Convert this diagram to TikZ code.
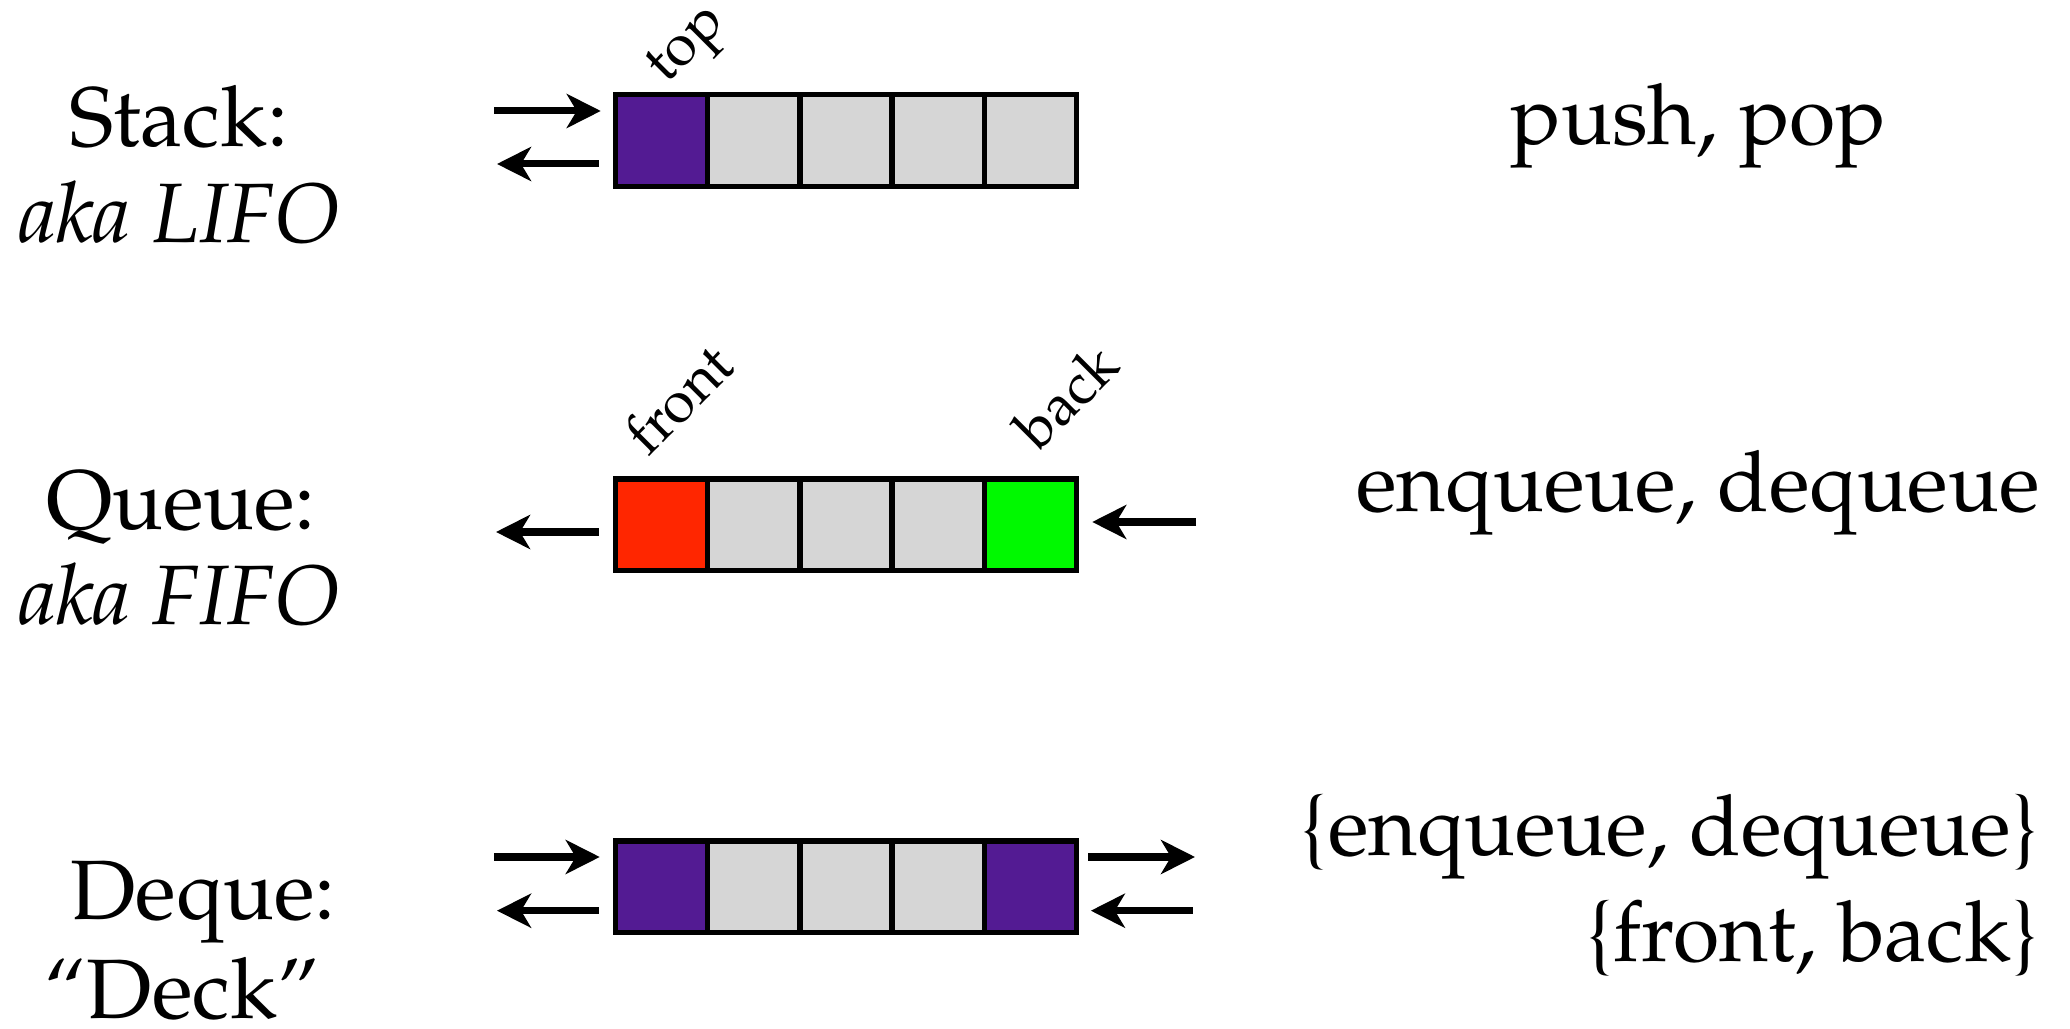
\documentclass[tikz,border=0pt]{standalone}
\usepackage[T1]{fontenc}
\usepackage{mathpazo}
\usetikzlibrary{arrows.meta, positioning}
\definecolor{grape}{RGB}{83,27,147}
\definecolor{maraschino}{RGB}{255,38,0}
\definecolor{spring}{RGB}{0,249,0}
\definecolor{silver}{RGB}{214,214,214}

\begin{document}
\begin{tikzpicture}[
    cell/.style={rectangle, draw, line width=1.5pt, fill=silver, minimum width=0.921cm, minimum height=0.915cm, inner sep=0pt, outer sep=0pt},
    word/.style={font=\fontsize{24}{27}\selectfont, inner sep=0pt, anchor=base},
    aka/.style={word, font=\fontsize{24}{27}\selectfont\itshape},
    tag/.style={font=\fontsize{16.5}{18}\selectfont, inner sep=0pt, rotate=45, anchor=base west},
    arr/.style={line width=2pt, -{Stealth[length=0.34cm, width=0.34cm, inset=0.1cm]}}]
  \useasboundingbox (0,0) rectangle (20.70,-10.29);

  % stack row
  \node[cell, fill=grape] (s1) at (6.618,-1.406) {};
  \foreach \i in {2,...,5}
    \node[cell] (s\i) at (5.697+0.921*\i,-1.406) {};
  % queue row
  \node[cell, fill=maraschino] (q1) at (6.618,-5.248) {};
  \foreach \i in {2,...,4}
    \node[cell] (q\i) at (5.697+0.921*\i,-5.248) {};
  \node[cell, fill=spring] (q5) at (10.302,-5.248) {};
  % deque row
  \node[cell, fill=grape] (d1) at (6.618,-8.867) {};
  \foreach \i in {2,...,4}
    \node[cell] (d\i) at (5.697+0.921*\i,-8.867) {};
  \node[cell, fill=grape] (d5) at (10.302,-8.867) {};

  % end markers
  \node[tag] (toptag) at (6.66,-0.85) {top};
  \node[tag] (fronttag) at (6.48,-4.58) {front};
  \node[tag] (backtag) at (10.38,-4.53) {back};

  % arrows in and out
  \coordinate (pushin) at (4.94,-1.11);
  \coordinate (popout) at (4.97,-1.64);
  \draw[arr, shorten >=0.15cm] (pushin) -- (pushin -| s1.west);
  \draw[arr, shorten <=0.17cm] (popout -| s1.west) -- (popout);

  \coordinate (deqout) at (4.96,-5.32);
  \coordinate (enqin) at (11.96,-5.22);
  \draw[arr, shorten <=0.17cm] (deqout -| q1.west) -- (deqout);
  \draw[arr, shorten >=0.16cm] (enqin) -- (enqin -| q5.east);

  \coordinate (dlin) at (4.94,-8.57);
  \coordinate (dlout) at (4.97,-9.107);
  \coordinate (drout) at (11.95,-8.57);
  \coordinate (drin) at (11.925,-9.107);
  \draw[arr, shorten >=0.16cm] (dlin) -- (dlin -| d1.west);
  \draw[arr, shorten <=0.17cm] (dlout -| d1.west) -- (dlout);
  \draw[arr, shorten <=0.12cm] (drout -| d5.east) -- (drout);
  \draw[arr, shorten >=0.146cm] (drin) -- (drin -| d5.east);

  % names on the left
  \node[word] (stackname) at (1.787,-1.47) {Stack:};
  \node[aka] (stackaka) at (1.795,-2.43) {aka LIFO};
  \node[word] (queuename) at (1.81,-5.30) {Queue:};
  \node[aka] (queueaka) at (1.795,-6.245) {aka FIFO};
  \node[word] (dequename) at (2.03,-9.20) {Deque:};
  \node[word] (dequeaka) at (1.82,-10.19) {``Deck''};

  % operations on the right
  \node[word] (stackops) at (16.985,-1.45) {push, pop};
  \node[word] (queueops) at (16.98,-5.12) {enqueue, dequeue};
  \node[word, anchor=base east] (dequeops) at (20.40,-8.555) {\{enqueue, dequeue\}};
  \node[word, anchor=base east] (dequeends) at (20.40,-9.62) {\{front, back\}};
\end{tikzpicture}
\end{document}
